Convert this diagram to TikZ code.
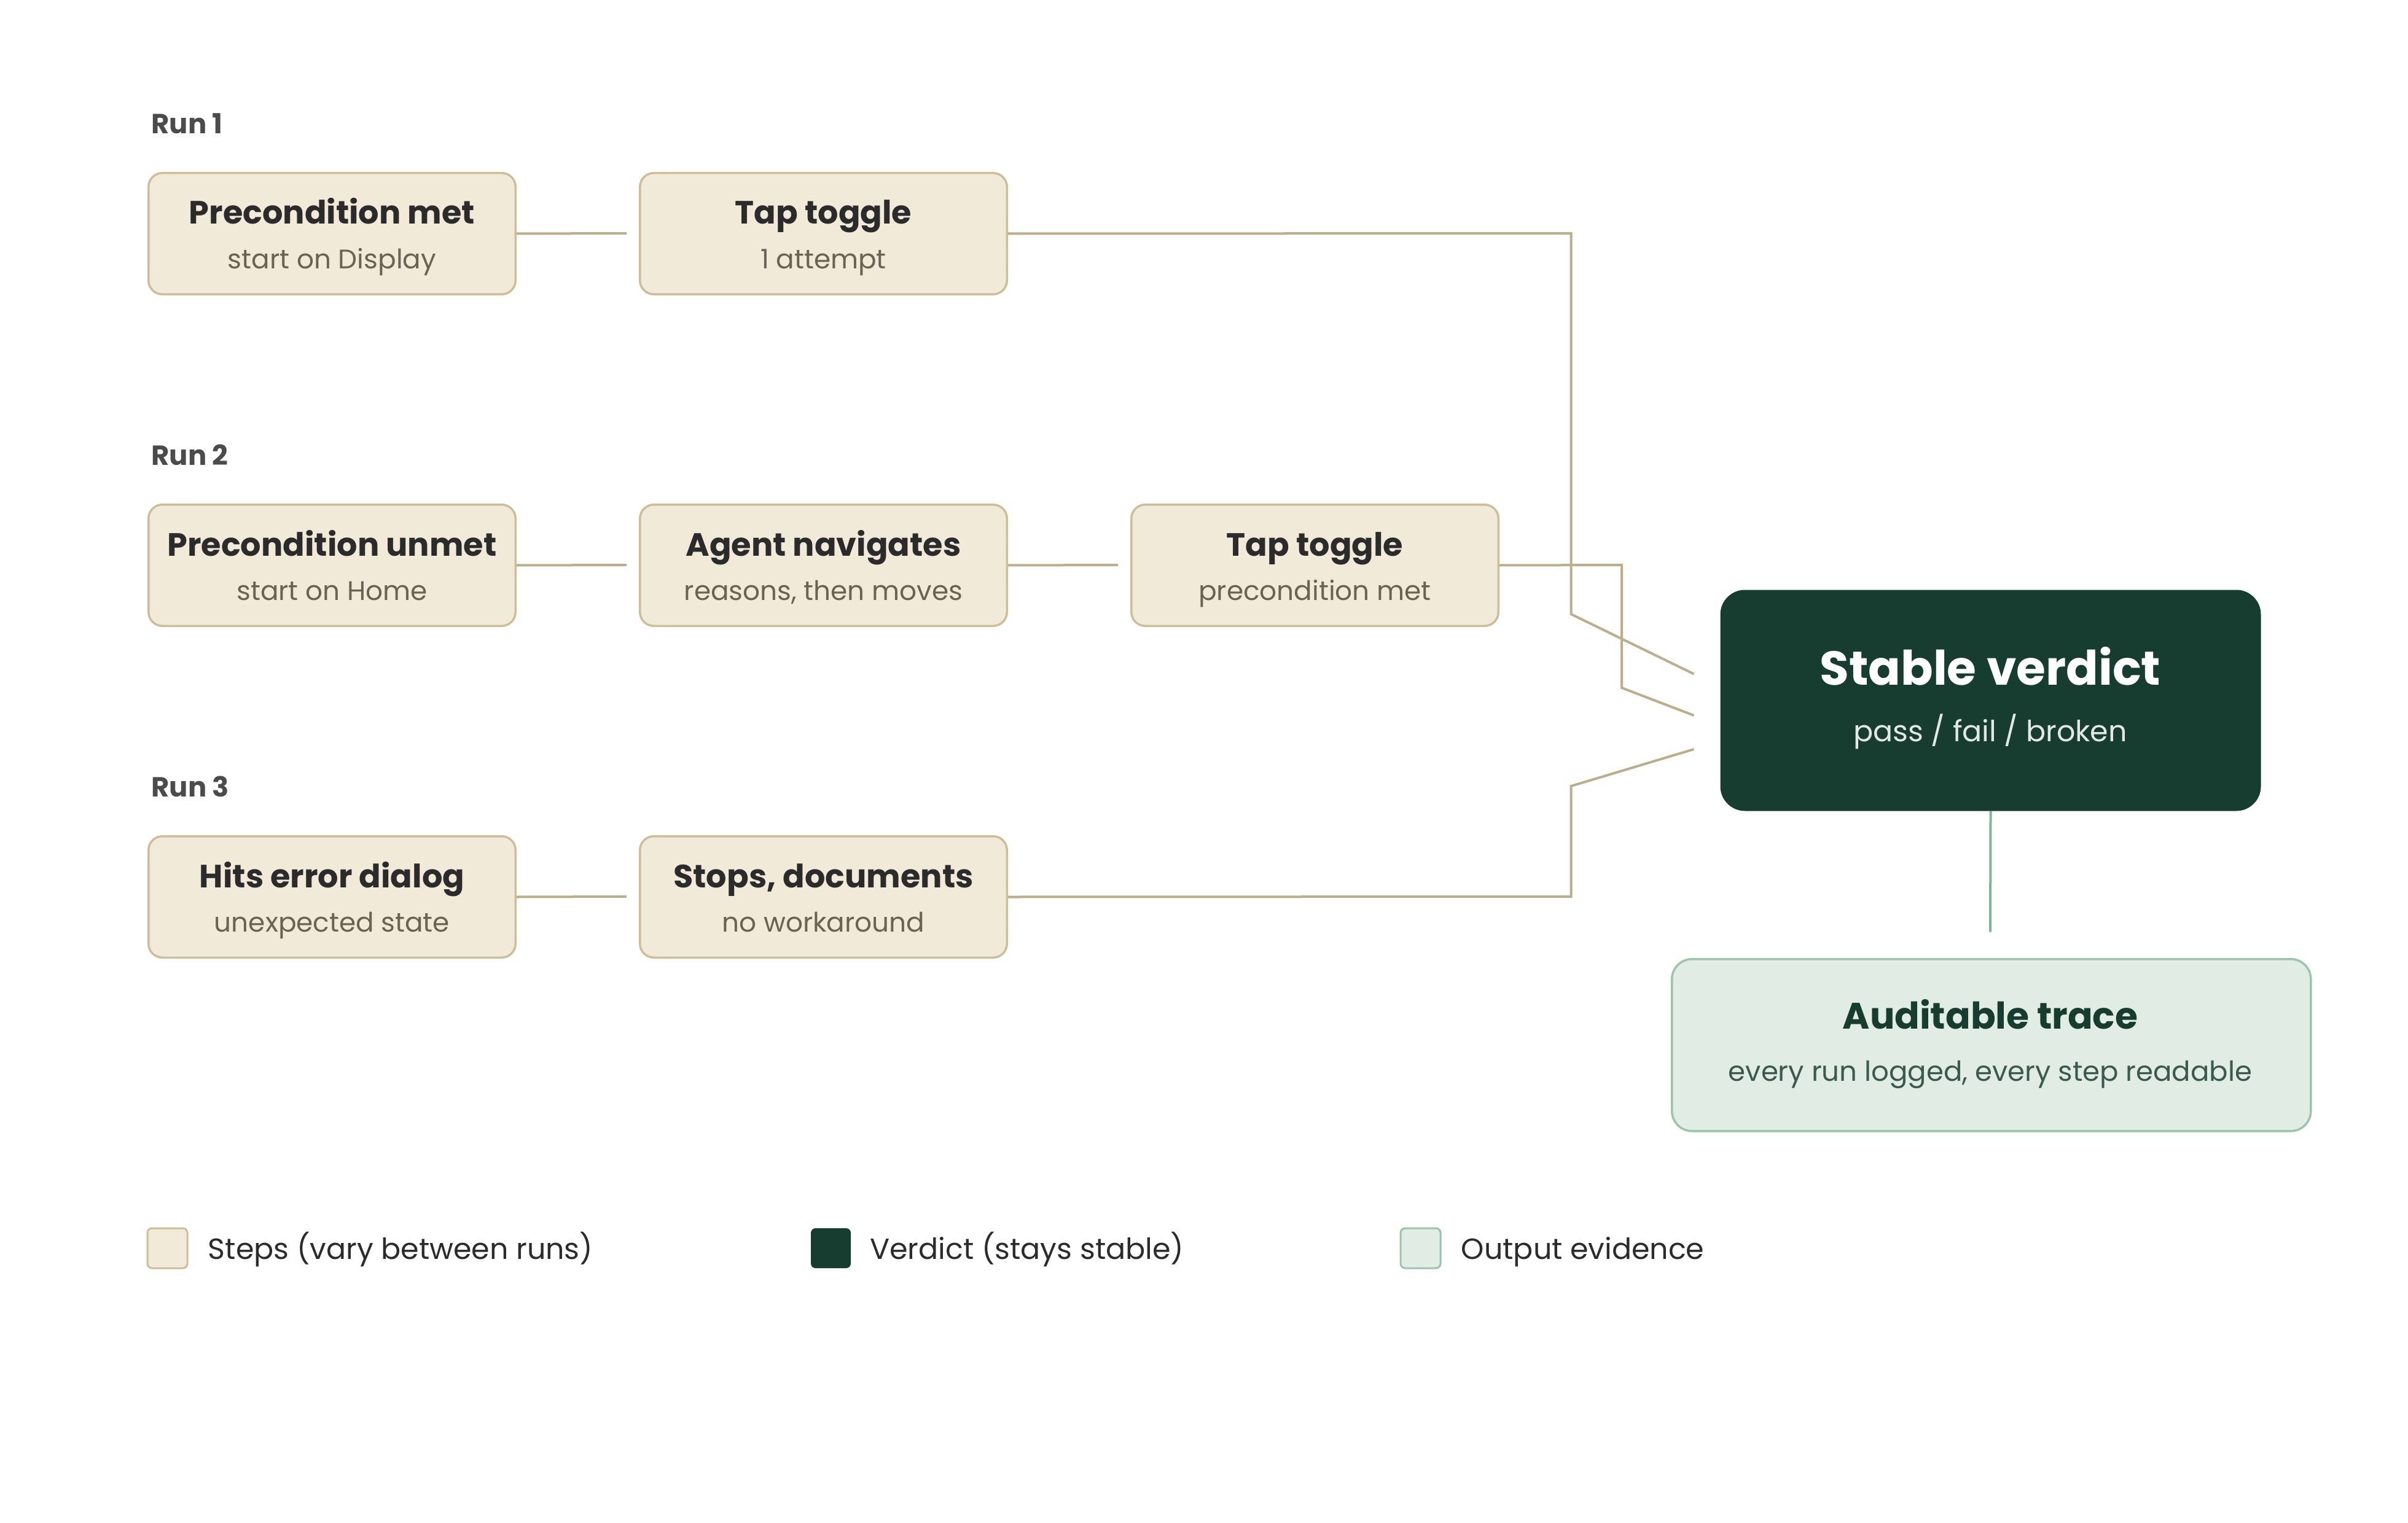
\documentclass[tikz,border=0pt]{standalone}
\usepackage{fontspec}
\setmainfont{Poppins}
\definecolor{stepfill}{HTML}{F2EAD8}
\definecolor{stepdraw}{HTML}{CDBE9A}
\definecolor{linec}{HTML}{BCAE8C}
\definecolor{verd}{HTML}{173D31}
\definecolor{outfill}{HTML}{E1EDE4}
\definecolor{outdraw}{HTML}{9CC4AC}
\definecolor{greenline}{HTML}{7FB59A}
\definecolor{txt}{HTML}{2B2B2B}
\definecolor{subtxt}{HTML}{6A6355}
\begin{document}
\begin{tikzpicture}[x=1pt,y=-1pt,
 stepbox/.style={draw=stepdraw,fill=stepfill,line width=1.4pt,rounded corners=9pt,minimum width=239pt,minimum height=79pt,anchor=north west,inner sep=0pt},
 ttl/.style={font=\fontsize{21}{24}\selectfont\bfseries,text=txt,anchor=base},
 sub/.style={font=\fontsize{17.5}{20}\selectfont,text=subtxt,anchor=base},
 run/.style={font=\fontsize{18}{20}\selectfont\bfseries,text=txt!85,anchor=base west},
 con/.style={draw=linec,line width=1.6pt},
 leg/.style={font=\fontsize{19}{22}\selectfont,text=txt,anchor=base west}]
\useasboundingbox (0,0) rectangle (1568,992);
\node[run] (r1) at (95,87) {Run 1};
\node[run] (r2) at (95,303) {Run 2};
\node[run] (r3) at (95,519) {Run 3};
% rows
\node[stepbox] (a1) at (96,112) {};
\node[stepbox] (b1) at (416,112) {};
\node[stepbox] (a2) at (96,328) {};
\node[stepbox] (b2) at (416,328) {};
\node[stepbox] (c2) at (736,328) {};
\node[stepbox] (a3) at (96,544) {};
\node[stepbox] (b3) at (416,544) {};
\newcommand{\steptext}[3]{\node[ttl] at ([yshift=-34pt]#1.north) {#2};\node[sub] at ([yshift=-63pt]#1.north) {#3};}
\steptext{a1}{Precondition met}{start on Display}
\steptext{b1}{Tap toggle}{1 attempt}
\steptext{a2}{Precondition unmet}{start on Home}
\steptext{b2}{Agent navigates}{reasons, then moves}
\steptext{c2}{Tap toggle}{precondition met}
\steptext{a3}{Hits error dialog}{unexpected state}
\steptext{b3}{Stops, documents}{no workaround}
% verdict
\node[fill=verd,rounded corners=16pt,minimum width=352pt,minimum height=144pt,anchor=north west,inner sep=0pt] (v) at (1120,384) {};
\node[font=\fontsize{31}{36}\selectfont\bfseries,text=white,anchor=base] (vt) at (1296,446) {Stable verdict};
\node[font=\fontsize{19}{22}\selectfont,text=white!88!verd,anchor=base] (vs) at (1296,483) {pass / fail / broken};
\node[draw=outdraw,fill=outfill,line width=1.4pt,rounded corners=13pt,minimum width=416pt,minimum height=112pt,anchor=north west,inner sep=0pt] (o) at (1088,624) {};
\node[font=\fontsize{24}{28}\selectfont\bfseries,text=verd,anchor=base] (ot) at (1296,670) {Auditable trace};
\node[font=\fontsize{18}{21}\selectfont,text=verd!85,anchor=base] (os) at (1296,704) {every run logged, every step readable};
% connectors
\coordinate (e1) at (408,152);
\coordinate (e2) at (408,368);
\coordinate (e3) at (728,368);
\coordinate (e4) at (408,584);
\coordinate (v1) at (1103,439);
\coordinate (v2) at (1103,466);
\coordinate (v3) at (1103,488);
\coordinate (og) at (1296,607);
\draw[con] (a1.east) -- (e1);
\draw[con] (a2.east) -- (e2);
\draw[con] (b2.east) -- (e3);
\draw[con] (a3.east) -- (e4);
\draw[con] (b1.east) -- (1023,152) -- (1023,400) -- (v1);
\draw[con] (c2.east) -- (1056,368) -- (1056,448) -- (v2);
\draw[con] (b3.east) -- (1023,584) -- (1023,512) -- (v3);
\draw[draw=greenline,line width=1.6pt] (v.south) -- (og);
% legend
\node[draw=stepdraw,fill=stepfill,line width=1.2pt,rounded corners=3pt,minimum size=26pt,inner sep=0pt] (l1) at (109,813) {};
\node[leg] (l1t) at (132,820) {Steps (vary between runs)};
\node[fill=verd,rounded corners=3pt,minimum size=26pt,inner sep=0pt] (l2) at (541,813) {};
\node[leg] (l2t) at (563,820) {Verdict (stays stable)};
\node[draw=outdraw,fill=outfill,line width=1.2pt,rounded corners=3pt,minimum size=26pt,inner sep=0pt] (l3) at (925,813) {};
\node[leg] (l3t) at (948,820) {Output evidence};
\end{tikzpicture}
\end{document}
